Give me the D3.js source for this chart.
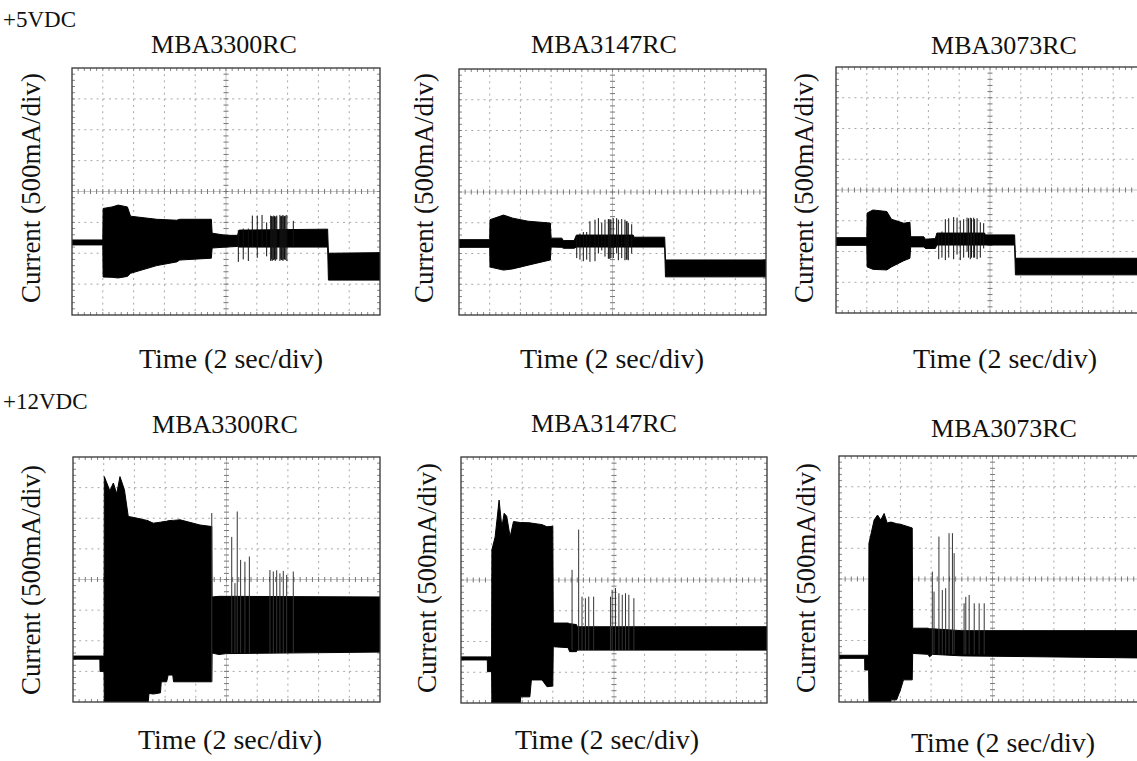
<!DOCTYPE html>
<html>
<head>
<meta charset="utf-8">
<script src="https://cdn.jsdelivr.net/npm/d3@7/dist/d3.min.js"></script>
<style>
  html, body { margin: 0; padding: 0; background: #fff; }
  svg text { font-family: "Liberation Serif", "Times New Roman", serif; fill: #111; }
</style>
</head>
<body>
<script>
// time in seconds (2 sec/div, 10 div), current in divisions (500 mA/div, 8 div)
const timeDomain = [0, 20];
const currentDomain = [0, 8];
const supplies = ['+5VDC', '+12VDC'];
const drives = ['MBA3300RC', 'MBA3147RC', 'MBA3073RC'];

// trace envelopes: [time s, low div, high div]
const env5_3300 = [
  [0, 2.27, 2.43], [2.0, 2.27, 2.43], [2.02, 1.23, 3.45], [2.6, 1.22, 3.5], [3.0, 1.2, 3.56],
  [3.6, 1.25, 3.5], [3.8, 1.35, 3.2], [5.5, 1.6, 3.1], [6.8, 1.72, 3.07], [7.0, 1.78, 3.1],
  [9.05, 1.84, 3.1], [9.1, 2.17, 2.65], [10.0, 2.2, 2.58], [10.75, 2.22, 2.58], [10.85, 2.2, 2.75],
  [16.6, 2.2, 2.78], [16.65, 1.13, 2.0], [20, 1.13, 2.02]
];
const env5_3147 = [
  [0, 2.2, 2.45], [2.0, 2.2, 2.45], [2.02, 1.56, 3.1], [2.9, 1.46, 3.25], [3.5, 1.5, 3.15],
  [4.5, 1.62, 3.05], [5.95, 1.79, 2.99], [6.0, 2.21, 2.5], [6.7, 2.2, 2.5], [6.8, 2.17, 2.42],
  [7.5, 2.17, 2.42], [7.65, 2.21, 2.6], [11.35, 2.21, 2.6], [11.4, 2.21, 2.53], [13.4, 2.21, 2.53],
  [13.45, 1.24, 1.79], [20, 1.24, 1.79]
];
const env5_3073 = [
  [0, 2.2, 2.45], [2.0, 2.2, 2.45], [2.02, 1.5, 3.25], [2.4, 1.42, 3.35], [3.3, 1.4, 3.3],
  [3.6, 1.5, 3.05], [4.4, 1.7, 2.92], [4.8, 1.78, 2.95], [4.85, 2.15, 2.48], [5.7, 2.15, 2.48],
  [5.8, 2.1, 2.4], [6.45, 2.1, 2.42], [6.55, 2.21, 2.6], [9.65, 2.21, 2.6], [9.7, 2.21, 2.54],
  [11.6, 2.21, 2.54], [11.65, 1.24, 1.78], [20, 1.24, 1.78]
];
const env12_3300 = [
  [0, 1.4, 1.5], [1.75, 1.4, 1.5], [1.76, 1.0, 1.5], [2.02, 1.0, 1.5], [2.04, 0, 7.36],
  [2.4, 0, 6.9], [2.63, 0, 7.15], [2.85, 0, 6.8], [3.06, 0, 7.36], [3.35, 0, 6.93],
  [3.6, 0, 6.06], [4.2, 0, 6.0], [4.9, 0, 5.92], [4.95, 0.28, 5.9], [5.23, 0.26, 5.84],
  [5.7, 0.3, 5.87], [5.75, 0.66, 5.88], [6.1, 0.66, 5.9], [6.2, 0.88, 5.92], [6.5, 0.88, 5.93],
  [6.55, 0.66, 5.93], [6.97, 0.66, 5.95], [8.27, 0.66, 5.78], [9.04, 0.66, 5.73],
  [9.06, 1.6, 3.43], [9.5, 1.55, 3.45], [10.0, 1.58, 3.45], [20, 1.63, 3.43]
];
const env12_3147 = [
  [0, 1.4, 1.5], [1.72, 1.4, 1.5], [1.73, 1.02, 1.5], [2.0, 1.02, 1.5], [2.02, 0, 4.98],
  [2.23, 0, 5.4], [2.49, 0, 6.6], [2.67, 0, 5.72], [2.82, 0, 6.17], [2.99, 0, 6.07],
  [3.21, 0, 5.4], [3.43, 0, 5.9], [3.87, 0, 5.87], [3.9, 0.2, 5.87], [4.5, 0.2, 5.86],
  [4.6, 0.75, 5.85], [5.3, 0.75, 5.8], [5.62, 0.53, 5.73], [6.0, 0.55, 5.75],
  [6.03, 1.83, 2.6], [7.0, 1.8, 2.6], [7.1, 1.67, 2.58], [7.55, 1.67, 2.55], [7.6, 1.72, 2.48],
  [20, 1.72, 2.48]
];
const env12_3073 = [
  [0, 1.42, 1.52], [1.67, 1.42, 1.52], [1.68, 1.04, 1.52], [1.93, 1.04, 1.52], [1.95, 0, 5.16],
  [2.29, 0, 5.92], [2.51, 0, 6.08], [2.72, 0, 5.92], [2.94, 0, 6.13], [3.14, 0, 5.82],
  [3.36, 0, 5.85], [3.4, 0.07, 5.85], [3.75, 0.07, 5.8], [4.0, 0.39, 5.78], [4.2, 0.72, 5.75],
  [4.77, 0.72, 5.66], [4.8, 1.58, 2.4], [5.8, 1.55, 2.4], [5.9, 1.47, 2.38], [6.1, 1.55, 2.38],
  [8.0, 1.5, 2.32], [20, 1.43, 2.32]
];

// single glitches: [time s, low div, high div]
const spk5_3300 = [
  [10.8, 1.72, 2.75], [11.12, 1.8, 2.8], [11.45, 1.75, 2.8], [11.71, 2.2, 3.22], [12.03, 1.85, 3.22],
  [12.34, 2.2, 3.24], [12.64, 1.9, 3.0], [12.9, 1.75, 3.22], [12.95, 1.8, 3.2], [13.0, 1.75, 3.2],
  [13.05, 1.78, 3.18], [13.1, 1.78, 3.22], [13.15, 1.8, 3.2], [13.2, 1.75, 3.18], [13.25, 1.8, 3.2],
  [13.3, 1.8, 3.22], [13.5, 1.75, 3.24], [13.55, 1.8, 3.2], [13.6, 1.78, 3.2], [13.65, 1.78, 3.22],
  [13.7, 1.75, 3.24], [13.75, 1.8, 3.2], [13.8, 1.8, 3.2], [13.85, 1.78, 3.22], [13.95, 1.75, 3.24],
  [14.37, 2.2, 3.05]
];
const spk5_3147 = [
  [7.67, 1.85, 2.6], [7.88, 1.8, 2.65], [8.1, 1.75, 2.7], [8.32, 1.8, 2.7], [8.53, 1.73, 3.05],
  [8.86, 1.75, 3.1], [9.08, 2.0, 3.15], [9.3, 2.1, 3.0], [9.51, 1.9, 3.1], [9.73, 1.83, 3.12],
  [9.78, 1.83, 3.1], [9.84, 1.83, 3.12], [9.9, 1.85, 3.1], [10.05, 1.85, 3.15], [10.27, 2.0, 3.15],
  [10.38, 1.78, 3.1], [10.6, 1.85, 3.12], [10.81, 1.78, 3.1], [10.9, 1.8, 3.05], [10.95, 1.8, 3.05],
  [11.03, 1.78, 3.0], [11.25, 2.0, 2.95]
];
const spk5_3073 = [
  [6.67, 1.75, 2.6], [6.88, 1.8, 2.65], [7.1, 1.72, 3.05], [7.32, 1.8, 3.08], [7.64, 1.75, 3.12],
  [7.86, 1.9, 3.1], [8.07, 1.72, 3.0], [8.29, 1.8, 3.05], [8.51, 2.0, 3.1], [8.6, 1.8, 3.08],
  [8.72, 1.75, 3.1], [8.8, 1.8, 3.08], [8.94, 1.8, 3.1], [9.0, 1.8, 3.05], [9.16, 1.75, 3.08],
  [9.37, 1.8, 2.95], [9.59, 2.1, 2.92]
];
const spk12_3300 = [
  [9.04, 0.66, 6.17], [10.34, 1.6, 5.39], [10.55, 1.6, 3.88], [10.7, 1.6, 6.22], [10.92, 1.6, 4.64],
  [11.2, 1.6, 4.58], [11.49, 1.6, 4.75], [12.83, 1.6, 4.31], [13.05, 1.6, 4.26], [13.27, 1.6, 4.3],
  [13.48, 1.6, 4.2], [13.7, 1.6, 4.28], [13.92, 1.6, 4.15], [14.35, 1.6, 4.26]
];
const spk12_3147 = [
  [7.26, 1.72, 4.33], [7.69, 1.72, 5.64], [7.91, 1.72, 3.46], [8.13, 1.72, 3.41], [8.35, 1.72, 3.46],
  [8.67, 1.72, 3.46], [9.77, 1.72, 3.46], [9.88, 1.72, 3.68], [10.1, 1.72, 3.74], [10.32, 1.72, 3.57],
  [10.54, 1.72, 3.52], [10.75, 1.72, 3.57], [10.97, 1.72, 3.52], [11.3, 1.72, 3.41]
];
const spk12_3073 = [
  [6.08, 1.55, 4.24], [6.19, 1.55, 3.59], [6.51, 1.55, 5.38], [6.73, 1.55, 3.64], [6.95, 1.55, 3.7],
  [7.17, 1.55, 5.49], [7.39, 1.55, 5.49], [7.5, 1.55, 4.84], [8.15, 1.55, 3.21], [8.26, 1.55, 3.42],
  [8.48, 1.55, 3.48], [8.81, 1.55, 3.21], [9.13, 1.55, 3.21], [9.46, 1.55, 3.21]
];

const envelopes = [env5_3300, env5_3147, env5_3073, env12_3300, env12_3147, env12_3073];
const glitches = [spk5_3300, spk5_3147, spk5_3073, spk12_3300, spk12_3147, spk12_3073];

// screen layout of each scope frame and its labels
const layout = [
  { x: 72,  y: 68,  w: 308, h: 247, tx: 224,  ty: 53,  lx: 40,  ly: 188, bx: 231,  by: 368 },
  { x: 459, y: 69,  w: 307, h: 246, tx: 604,  ty: 53,  lx: 433, ly: 188, bx: 612,  by: 368 },
  { x: 836, y: 67,  w: 308, h: 246, tx: 1004, ty: 54,  lx: 813, ly: 188, bx: 1005, by: 368 },
  { x: 73,  y: 457, w: 307, h: 245, tx: 225,  ty: 433, lx: 40,  ly: 580, bx: 230,  by: 749 },
  { x: 461, y: 457, w: 306, h: 246, tx: 604,  ty: 432, lx: 436, ly: 578, bx: 607,  by: 749 },
  { x: 839, y: 456, w: 307, h: 246, tx: 1004, ty: 437, lx: 815, ly: 578, bx: 1003, by: 752 }
];

const svg = d3.select('body').append('svg')
  .attr('width', 1137)
  .attr('height', 761);

// supply labels
svg.append('text').attr('x', 3).attr('y', 27).style('font-size', '23px').text(supplies[0]);
svg.append('text').attr('x', 3).attr('y', 409).style('font-size', '23px').text(supplies[1]);

layout.forEach((p, i) => {
  const x = d3.scaleLinear().domain(timeDomain).range([0, p.w]);
  const y = d3.scaleLinear().domain(currentDomain).range([p.h, 0]);
  const g = svg.append('g').attr('transform', `translate(${p.x},${p.y})`);

  const clipId = 'clip' + i;
  g.append('clipPath').attr('id', clipId)
    .append('rect').attr('width', p.w).attr('height', p.h);

  const minorX = x(0.4) - x(0);
  const minorY = y(0) - y(0.2);

  // dotted graticule
  const grid = g.append('g');
  grid.selectAll('.vg')
    .data(d3.range(2, 20, 2).filter(t => t !== 10))
    .enter().append('line')
    .attr('x1', d => x(d)).attr('x2', d => x(d))
    .attr('y1', 0).attr('y2', p.h)
    .attr('stroke', '#a8a8a8').attr('stroke-width', 1)
    .attr('stroke-dasharray', `2 ${minorY - 2}`);
  grid.selectAll('.hg')
    .data(d3.range(1, 8).filter(v => v !== 4))
    .enter().append('line')
    .attr('x1', 0).attr('x2', p.w)
    .attr('y1', d => y(d)).attr('y2', d => y(d))
    .attr('stroke', '#a8a8a8').attr('stroke-width', 1)
    .attr('stroke-dasharray', `2 ${minorX - 2}`);

  // centre axes with minor ticks
  grid.append('line')
    .attr('x1', x(10)).attr('x2', x(10)).attr('y1', 0).attr('y2', p.h)
    .attr('stroke', '#c4c4c4');
  grid.append('line')
    .attr('x1', 0).attr('x2', p.w).attr('y1', y(4)).attr('y2', y(4))
    .attr('stroke', '#c4c4c4');
  const tx = d3.range(0.4, 20, 0.4);
  const ty = d3.range(0.2, 8, 0.2);
  grid.selectAll('.cxt').data(tx).enter().append('line')
    .attr('x1', d => x(d)).attr('x2', d => x(d))
    .attr('y1', y(4) - 2.5).attr('y2', y(4) + 2.5)
    .attr('stroke', '#777');
  grid.selectAll('.cyt').data(ty).enter().append('line')
    .attr('y1', d => y(d)).attr('y2', d => y(d))
    .attr('x1', x(10) - 2.5).attr('x2', x(10) + 2.5)
    .attr('stroke', '#777');
  // edge ticks
  grid.selectAll('.ext').data(tx).enter().append('line')
    .attr('x1', d => x(d)).attr('x2', d => x(d))
    .attr('y1', 0).attr('y2', 3)
    .attr('stroke', '#888');
  grid.selectAll('.exb').data(tx).enter().append('line')
    .attr('x1', d => x(d)).attr('x2', d => x(d))
    .attr('y1', p.h - 3).attr('y2', p.h)
    .attr('stroke', '#888');
  grid.selectAll('.eyl').data(ty).enter().append('line')
    .attr('y1', d => y(d)).attr('y2', d => y(d))
    .attr('x1', 0).attr('x2', 3)
    .attr('stroke', '#888');
  grid.selectAll('.eyr').data(ty).enter().append('line')
    .attr('y1', d => y(d)).attr('y2', d => y(d))
    .attr('x1', p.w - 3).attr('x2', p.w)
    .attr('stroke', '#888');

  // trace
  const trace = g.append('g').attr('clip-path', `url(#${clipId})`);
  const area = d3.area()
    .x(d => x(d[0]))
    .y0(d => y(d[1]))
    .y1(d => y(d[2]));
  trace.append('path')
    .datum(envelopes[i])
    .attr('d', area)
    .attr('fill', '#000')
    .attr('stroke', '#000')
    .attr('stroke-width', 1);
  trace.selectAll('.spk')
    .data(glitches[i])
    .enter().append('line')
    .attr('x1', d => x(d[0])).attr('x2', d => x(d[0]))
    .attr('y1', d => y(d[1])).attr('y2', d => y(d[2]))
    .attr('stroke', i < 3 ? '#111' : '#333')
    .attr('stroke-width', 1);

  // frame
  g.append('rect')
    .attr('width', p.w).attr('height', p.h)
    .attr('fill', 'none')
    .attr('stroke', '#333')
    .attr('stroke-width', 1.3);

  // labels
  svg.append('text')
    .attr('x', p.tx).attr('y', p.ty)
    .attr('text-anchor', 'middle')
    .style('font-size', '26px')
    .text(drives[i % 3]);
  svg.append('text')
    .attr('transform', `translate(${p.lx},${p.ly}) rotate(-90)`)
    .attr('text-anchor', 'middle')
    .style('font-size', '27px')
    .text('Current (500mA/div)');
  svg.append('text')
    .attr('x', p.bx).attr('y', p.by)
    .attr('text-anchor', 'middle')
    .style('font-size', '28px')
    .text('Time (2 sec/div)');
});
</script>
</body>
</html>
